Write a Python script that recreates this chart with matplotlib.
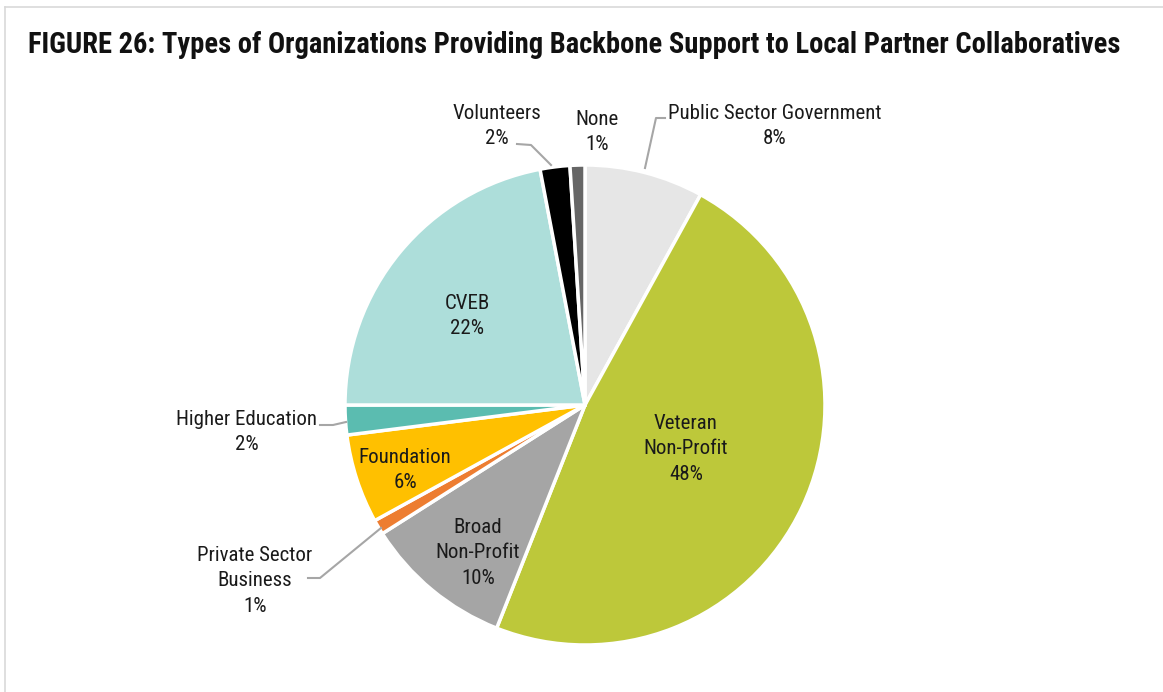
import matplotlib
matplotlib.use("Agg")
import matplotlib.pyplot as plt
from matplotlib.lines import Line2D

categories = ["Public Sector Government", "Veteran\nNon-Profit", "Broad\nNon-Profit",
              "Private Sector\nBusiness", "Foundation", "Higher Education", "CVEB",
              "Volunteers", "None"]
shares = [8, 48, 10, 1, 6, 2, 22, 2, 1]
colors = ["#E6E6E6", "#BDC83A", "#A5A5A5", "#ED7D31", "#FFC000", "#5BBCB0",
          "#ADDEDA", "#000000", "#666666"]
title = "FIGURE 26: Types of Organizations Providing Backbone Support to Local Partner Collaboratives"

W, H = 1163, 692
fig = plt.figure(figsize=(W / 100, H / 100), dpi=100)
fig.patch.set_facecolor("white")
renderer = fig.canvas.get_renderer()

FONT = ["Roboto Condensed", "DejaVu Sans"]


def fit_size(text, width_px, size, **kw):
    """Return a font size at which `text` spans about width_px pixels."""
    t = fig.text(0, 0, text, fontsize=size, **kw)
    w = t.get_window_extent(renderer).width
    t.remove()
    return size * width_px / w


# frame lines along the top and left edge
fig.add_artist(Line2D([5 / W, 1], [1 - 7 / H, 1 - 7 / H], color="#D9D9D9", lw=1.2))
fig.add_artist(Line2D([5 / W, 5 / W], [0, 1 - 7 / H], color="#D9D9D9", lw=1.2))

tsize = fit_size(title, 1089, 20, family=FONT, fontweight="bold")
fig.text(28 / W, 1 - 45 / H, title, family=FONT, fontweight="bold",
         fontsize=tsize, va="center", ha="left", color="#111111")

# pie axes: center (585, 405), radius 240 px
cx, cy, r = 585, 405, 240
ax = fig.add_axes([(cx - r) / W, 1 - (cy + r) / H, 2 * r / W, 2 * r / H])
ax.pie(shares, colors=colors, startangle=90, counterclock=False,
       wedgeprops=dict(edgecolor="white", linewidth=2.5))
ax.set_xlim(-1, 1)
ax.set_ylim(-1, 1)
ax.set_aspect("equal")
ax.axis("off")


def px(x, y):
    return x / W, 1 - y / H


lsize = 1.04 * fit_size("Public Sector Government", 207, 14, family=FONT)

# label positions in pixels
label_pos = [(775, 126), (686, 449), (478, 553), (255, 581), (405, 470),
             (247, 432), (467, 316), (497, 126), (597, 132)]
for name, val, (x, y) in zip(categories, shares, label_pos):
    fig.text(*px(x, y), f"{name}\n{val}%", family=FONT, fontsize=lsize,
             ha="center", va="center", color="#1A1A1A", linespacing=1.42)

# leader lines
leaders = [
    [(665, 118), (656, 118), (645, 168)],
    [(517, 144), (531, 145), (551, 165)],
    [(320, 425), (333, 425), (346, 422)],
    [(308, 578), (320, 578), (381, 528)],
]
for pts in leaders:
    xs = [p[0] / W for p in pts]
    ys = [1 - p[1] / H for p in pts]
    fig.add_artist(Line2D(xs, ys, color="#A6A6A6", lw=1.5))

fig.savefig("out.png", dpi=100, facecolor="white")
